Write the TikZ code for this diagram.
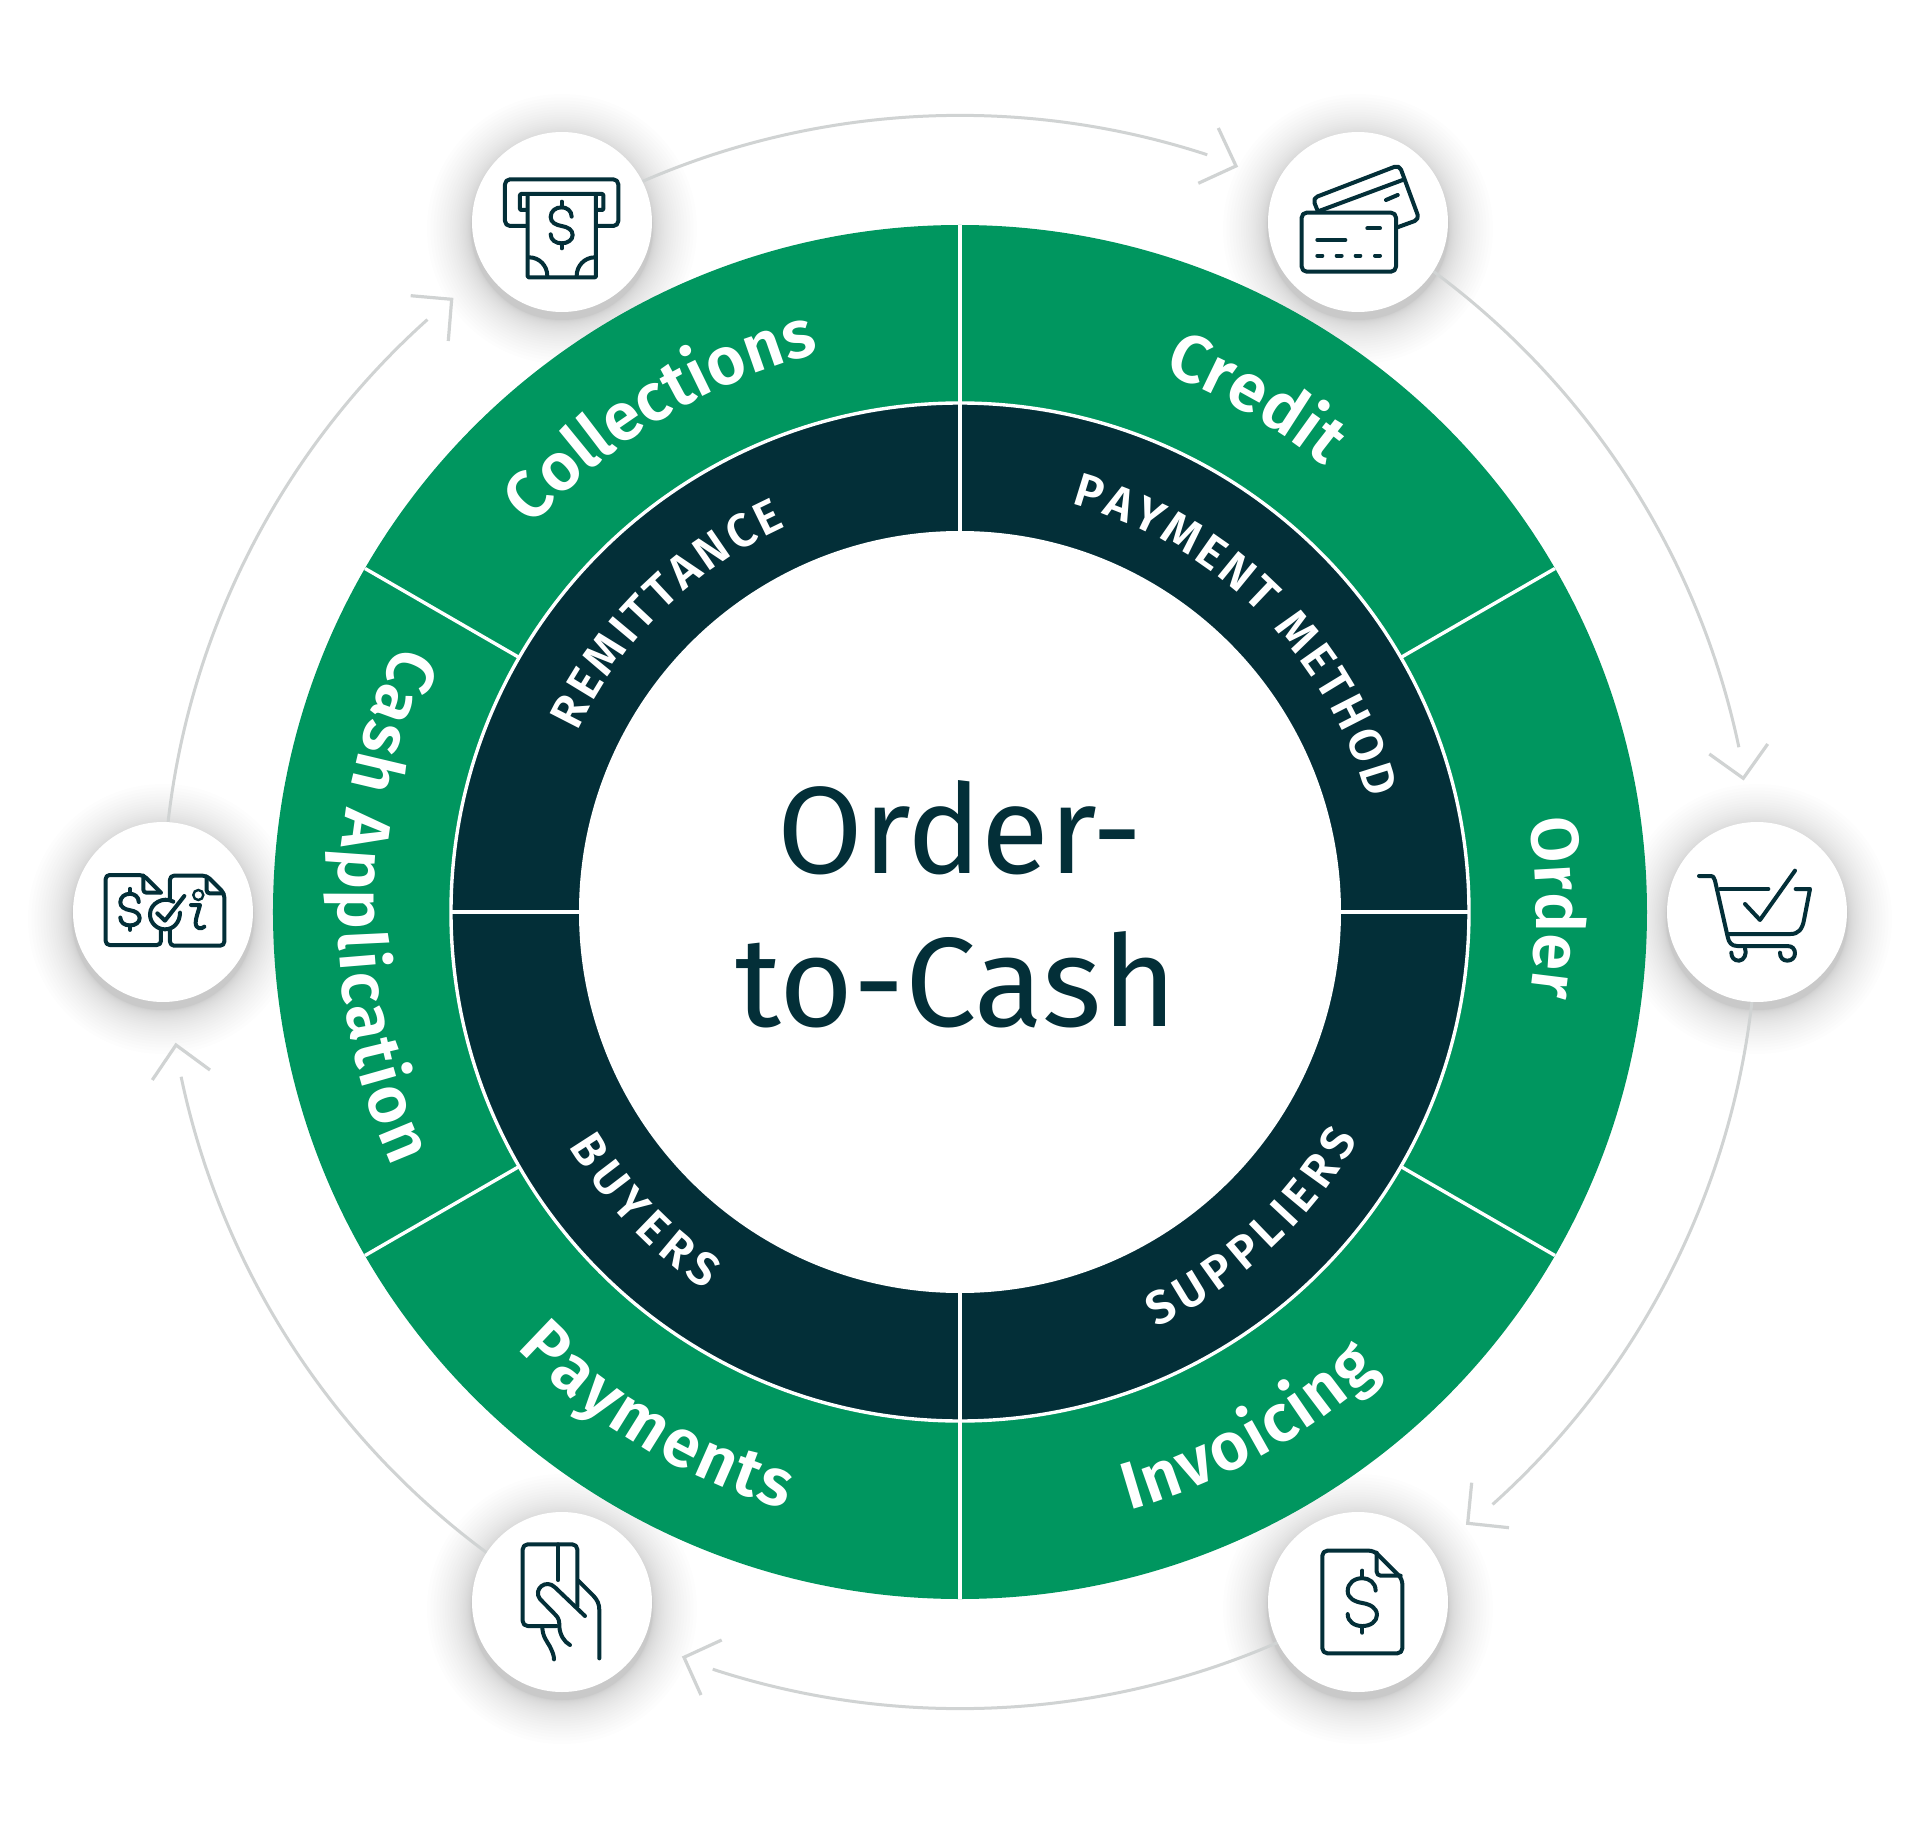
\documentclass[tikz,border=0pt]{standalone}
\usepackage{fontspec}
\setmainfont{Fira Sans}
\newfontfamily\semifont{Fira Sans SemiBold}
\usetikzlibrary{decorations.text}
\definecolor{ringgreen}{HTML}{00965F}
\definecolor{navy}{HTML}{032F38}
\definecolor{flowgrey}{HTML}{D0D3D3}
\newcommand\outerfmt{\semifont\fontsize{67}{70}\selectfont\color{white}}
\newcommand\innerfmt{\semifont\fontsize{47}{52}\selectfont\color{white}}
\tikzset{
  hub/.style={circle,fill=white,minimum size=180pt,inner sep=0pt},
  flow/.style={draw=flowgrey,line width=3pt},
  headline/.style={draw=flowgrey,line width=3.2pt,line join=miter},
  sep/.style={draw=white,line width=3.4pt},
  ico/.style={draw=navy,line width=4pt,line cap=round,line join=round,fill=none},
  outerlab/.style={decorate,decoration={text along path,text={|\outerfmt|#1},text align=fit to path}},
  innerlab/.style={decorate,decoration={text along path,text={|\innerfmt|#1},text align=fit to path}},
  crop/.style 2 args={shift={(#1,#2)},x=0.33333pt,y=-0.33333pt}
}
\newcommand\dollarmark[3]{%
  \begin{scope}[shift={(#1,#2)},scale=#3]
    \draw[ico] (30,-25) .. controls (30,-43) and (15,-53) .. (0,-53) .. controls (-18,-53) and (-33,-42) .. (-33,-24) .. controls (-33,-8) and (-18,0) .. (0,3) .. controls (18,6) and (33,14) .. (33,30) .. controls (33,45) and (18,55) .. (0,55) .. controls (-18,55) and (-33,45) .. (-33,28);
    \draw[ico] (0,-70) -- (0,-53) (0,55) -- (0,70);
  \end{scope}}
\begin{document}
\begin{tikzpicture}[x=1pt,y=1pt]
\useasboundingbox (-960,-912) rectangle (960,912);
\fill[white] (-960,-912) rectangle (960,912);
% soft shadows
\foreach \px/\py in {-398/690,398/690,797/0,398/-690,-398/-690,-797/0}{
  \foreach \t in {0,...,26}{
    \pgfmathsetmacro\r{91+44*(\t/26)*(\t/26)}
    \fill[black,fill opacity=0.0065] (\px,\py-7) circle[radius=\r];
  }
}
% rings
\fill[ringgreen] (0,0) circle[radius=687];
\fill[navy] (0,0) circle[radius=509];
\draw[sep] (0,0) circle[radius=509];
\fill[white] (0,0) circle[radius=381];
\draw[sep] (90:381) -- (90:687);
\draw[sep] (270:381) -- (270:687);
\draw[sep] (0:381) -- (0:509);
\draw[sep] (180:381) -- (180:509);
\foreach \a in {30,150,210,330}{\draw[sep] (\a:509) -- (\a:687);}
% hubs positions
\coordinate (collectionsc) at (-398,690);
\coordinate (creditc) at (398,690);
\coordinate (orderc) at (797,0);
\coordinate (invoicingc) at (398,-690);
\coordinate (paymentsc) at (-398,-690);
\coordinate (applicationc) at (-797,0);
% flows
\draw[flow] (collectionsc) arc[start angle=120,end angle=71.9,radius=796];
\draw[flow] (creditc) arc[start angle=60,end angle=11.9,radius=796];
\draw[flow] (orderc) arc[start angle=0,end angle=-48.1,radius=796];
\draw[flow] (invoicingc) arc[start angle=-60,end angle=-108.1,radius=796];
\draw[flow] (paymentsc) arc[start angle=-120,end angle=-168.1,radius=796];
\draw[flow] (applicationc) arc[start angle=180,end angle=131.9,radius=796];
% arrow heads
\draw[headline] (258.3,784) -- (276,746) -- (238.3,728.7);
\draw[headline] (749.3,158) -- (783.3,133.7) -- (807.7,168);
\draw[headline] (511.7,-570.7) -- (507.7,-611.3) -- (549,-615.7);
\draw[headline] (-238.3,-728) -- (-276,-745.3) -- (-259,-783);
\draw[headline] (-807.7,-168) -- (-784,-133) -- (-750,-158);
\draw[headline] (-549.3,616.3) -- (-508.3,612.7) -- (-511.7,571);
% hubs
\node[hub] (collections) at (collectionsc) {};
\node[hub] (credit) at (creditc) {};
\node[hub] (order) at (orderc) {};
\node[hub] (invoicing) at (invoicingc) {};
\node[hub] (payments) at (paymentsc) {};
\node[hub] (application) at (applicationc) {};
% outer labels
\path[outerlab={Collections}] (138:576) arc[start angle=138,end angle=105.4,radius=576];
\path[outerlab={Credit}] (69.3:576) arc[start angle=69.3,end angle=51.2,radius=576];
\path[outerlab={Order}] (9.2:576) arc[start angle=9.2,end angle=-8,radius=576];
\path[outerlab={Invoicing}] (-74.2:622) arc[start angle=-74.2,end angle=-47.5,radius=622];
\path[outerlab={Payments}] (224.5:622) arc[start angle=224.5,end angle=253.7,radius=622];
\path[outerlab={Cash Application}] (154.5:622) arc[start angle=154.5,end angle=204.2,radius=622];
% inner labels
\path[innerlab={REMITTANCE}] (154.8:423) arc[start angle=154.8,end angle=114.3,radius=423];
\path[innerlab={PAYMENT METHOD}] (74.7:423) arc[start angle=74.7,end angle=15.5,radius=423];
\path[innerlab={SUPPLIERS}] (-64.7:459) arc[start angle=-64.7,end angle=-29.8,radius=459];
\path[innerlab={BUYERS}] (211:456) arc[start angle=211,end angle=236,radius=456];
% centre
\node[text=navy,font=\fontsize{124}{125}\selectfont,anchor=base,inner sep=0pt] (titleone) at (0,39) {Order-};
\node[text=navy,font=\fontsize{127}{125}\selectfont,anchor=base,inner sep=0pt] (titletwo) at (-4,-114) {to-Cash};
% icon: ATM
\begin{scope}[crop={-500}{792}]
  \draw[ico,rounded corners=5pt] (200,318) -- (135,318) -- (135,178) -- (475,178) -- (475,318) -- (410,318);
  \draw[ico,rounded corners=1pt] (200,270) -- (180,270) -- (180,222) -- (430,222) -- (430,270) -- (410,270);
  \draw[ico,rounded corners=1pt] (203,226) -- (203,472) -- (408,472) -- (408,226);
  \draw[ico] (207,412) .. controls (238,412) and (262,437) .. (262,468);
  \draw[ico] (405,412) .. controls (374,412) and (350,437) .. (350,468);
  \dollarmark{305}{315}{1}
\end{scope}
% icon: cards
\begin{scope}[crop={300}{792}]
  \draw[ico,rounded corners=5pt] (125,278) rectangle (408,455);
  \draw[ico] (322,325) -- (360,325) (172,360) -- (256,360);
  \draw[ico] (172,407) -- (187,407) (230,407) -- (245,407) (287,407) -- (301,407) (345,407) -- (360,407);
  \draw[ico,rounded corners=5pt] (172,270) -- (158,235) -- (418,135) -- (478,298) -- (412,322);
  \draw[ico] (180,272) -- (428,180) (378,240) -- (413,225);
\end{scope}
% icon: cart
\begin{scope}[crop={700}{102}]
  \draw[ico] (117,198) -- (150,198) .. controls (160,198) and (163,203) .. (165,212) -- (203,380) .. controls (206,398) and (215,408) .. (232,408) -- (382,408) .. controls (398,408) and (405,418) .. (405,430) .. controls (405,443) and (395,452) .. (382,452) .. controls (368,452) and (360,442) .. (360,428);
  \draw[ico] (180,237) -- (325,237);
  \draw[ico] (407,237) -- (450,237) -- (432,330) .. controls (427,358) and (415,372) .. (392,372) -- (205,372);
  \draw[ico] (255,282) -- (300,330) -- (405,182);
  \draw[ico] (255,415) .. controls (262,430) and (252,452) .. (237,452) .. controls (222,452) and (214,442) .. (214,428);
\end{scope}
% icon: invoice document
\begin{scope}[crop={300}{-588}]
  \draw[ico,rounded corners=5pt] (187,152) -- (342,152) -- (427,237) -- (427,460) -- (187,460) -- cycle;
  \draw[ico,rounded corners=4pt] (350,158) -- (350,227) -- (422,227);
  \dollarmark{307}{305}{1.33}
\end{scope}
% icon: hand with card
\begin{scope}[crop={-500}{-588}]
  \draw[ico,rounded corners=5pt] (290,378) -- (188,378) -- (188,133) -- (352,133) -- (352,320);
  \draw[ico] (295,133) -- (295,240);
  \draw[ico] (375,348) -- (285,262) .. controls (258,235) and (218,268) .. (240,297) -- (285,343) .. controls (298,355) and (298,365) .. (298,380) .. controls (300,405) and (312,425) .. (330,435);
  \draw[ico] (355,242) -- (400,287) .. controls (412,300) and (418,312) .. (418,330) -- (418,475);
  \draw[ico] (247,380) .. controls (247,410) and (262,425) .. (270,440) .. controls (277,455) and (282,465) .. (282,478);
\end{scope}
% icon: documents and check
\begin{scope}[crop={-895}{102}]
  \draw[ico,rounded corners=4pt] (288,360) -- (288,405) -- (122,405) -- (122,195) -- (235,195) -- (288,248);
  \draw[ico,rounded corners=3pt] (235,197) -- (235,248) -- (285,248);
  \draw[ico,rounded corners=4pt] (315,265) -- (315,197) -- (425,197) -- (478,250) -- (478,407) -- (315,407) -- (315,358);
  \draw[ico,rounded corners=3pt] (425,200) -- (425,250) -- (475,250);
  \draw[ico] (325,275) .. controls (295,258) and (255,280) .. (255,313) .. controls (255,338) and (275,358) .. (300,358) .. controls (325,358) and (345,338) .. (345,308);
  \draw[ico] (277,310) -- (300,332) -- (358,258);
  \draw[navy,line width=2.4pt] (400,255) circle[radius=5pt];
  \draw[ico] (378,285) -- (405,285) .. controls (400,305) and (392,325) .. (392,338) .. controls (392,358) and (410,358) .. (418,350);
  \dollarmark{195}{298}{0.88}
\end{scope}
\end{tikzpicture}
\end{document}
